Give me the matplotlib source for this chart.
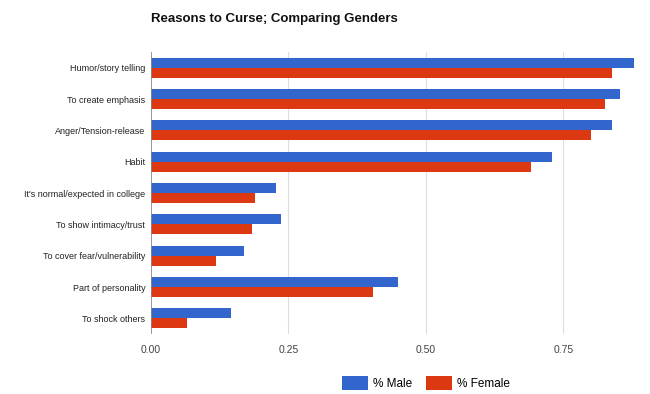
import matplotlib
matplotlib.use("Agg")
import matplotlib.pyplot as plt
import numpy as np

plt.rcParams["font.family"] = ["Liberation Sans", "DejaVu Sans"]

reasons = ["Humor/story telling", "To create emphasis", "Anger/Tension-release", "Habit",
           "It's normal/expected in college", "To show intimacy/trust",
           "To cover fear/vulnerability", "Part of personality", "To shock others"]
male = [0.878, 0.853, 0.838, 0.730, 0.227, 0.236, 0.170, 0.449, 0.145]
female = [0.838, 0.826, 0.800, 0.692, 0.190, 0.184, 0.118, 0.404, 0.066]
ticks = [0.0, 0.25, 0.50, 0.75]
tick_labels = ["0.00", "0.25", "0.50", "0.75"]

BLUE, RED = "#3366cc", "#dc3912"

fig = plt.figure(figsize=(6.5, 3.94), dpi=100)
ax = fig.add_axes([0.232, 0.152, 0.753, 0.716])

y = np.arange(len(reasons))
h = 0.32
ax.barh(y - h / 2, male, h, color=BLUE, label="% Male", zorder=3)
ax.barh(y + h / 2, female, h, color=RED, label="% Female", zorder=3)

ax.set_ylim(len(reasons) - 0.5, -0.5)
ax.set_xlim(0, 0.89)
ax.set_yticks(y)
ax.set_yticklabels(reasons, fontsize=6.5, color="#222222")
ax.set_xticks(ticks)
ax.set_xticklabels(tick_labels, fontsize=7.5, color="#444444")
ax.tick_params(axis="y", length=0, pad=4)
ax.tick_params(axis="x", length=0, pad=8)

for t in ticks[1:]:
    ax.axvline(t, color="#dddddd", lw=0.8, zorder=1)
ax.axvline(0, color="#888888", lw=1.2, zorder=4)
for s in ax.spines.values():
    s.set_visible(False)

fig.text(0.232, 0.952, "Reasons to Curse; Comparing Genders", fontsize=9.5,
         fontweight="bold", color="#111111", va="center")

fig.legend(loc="center", bbox_to_anchor=(0.655, 0.028), ncol=2, frameon=False,
           fontsize=8.5, handlelength=2.2, handleheight=1.4, columnspacing=1.2,
           handletextpad=0.4)

fig.savefig("out.png", dpi=100)
